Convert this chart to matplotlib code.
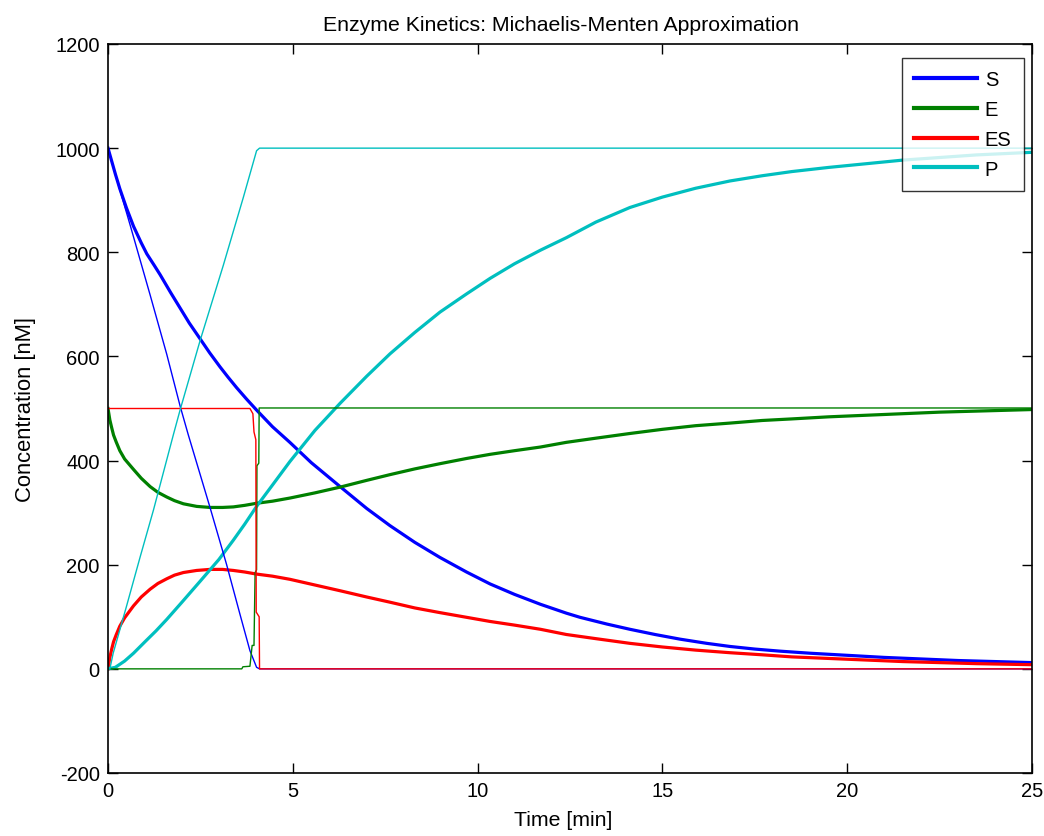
import matplotlib
matplotlib.use("Agg")
import matplotlib.pyplot as plt

# ---- thick curves (full model) ----
t_S = [0, 0.1, 0.2, 0.32, 0.5, 0.69, 0.9, 1.05, 1.25, 1.41, 1.7, 1.95, 2.2, 2.49,
       2.75, 3.03, 3.25, 3.48, 3.75, 4.02, 4.45, 4.92, 5.5, 6.28, 7.0, 7.63, 8.3,
       8.98, 9.7, 10.34, 11.0, 11.7, 12.4, 12.77, 13.5, 14.12, 14.8, 15.48, 16.2,
       16.83, 17.5, 18.18, 19.0, 20.0, 21.0, 22.0, 23.0, 24.0, 25.0]
S = [1000, 975, 950, 922, 885, 850, 818, 797, 775, 757, 722, 693, 664, 634,
     607, 580, 560, 540, 518, 497, 465, 435, 396, 350, 308, 275, 243,
     214, 186, 163, 143, 124, 107, 99, 86, 76, 66, 57, 49,
     43, 38, 34, 30, 26, 22, 19, 16, 14, 12]

t_E = [0, 0.05, 0.1, 0.15, 0.22, 0.32, 0.45, 0.69, 0.9, 1.14, 1.35, 1.59, 1.8, 2.04,
       2.4, 2.76, 3.1, 3.39, 3.7, 4.02, 4.45, 4.92, 5.6, 6.28, 7.0, 7.63, 8.3, 8.98,
       9.7, 10.34, 11.0, 11.7, 12.4, 13.2, 14.12, 15.0, 15.9, 16.83, 17.7, 18.5,
       19.5, 20.5, 21.5, 22.5, 23.5, 25.0]
E = [500, 478, 463, 449, 436, 419, 403, 383, 366, 350, 339, 330, 323, 317,
     312, 310, 310, 311, 314, 318, 322, 328, 338, 349, 362, 373, 384, 394,
     404, 412, 419, 426, 435, 443, 452, 460, 467, 472, 477, 480,
     484, 487, 490, 493, 495, 498]

t_ES = [0, 0.05, 0.1, 0.15, 0.22, 0.32, 0.45, 0.69, 0.9, 1.14, 1.35, 1.59, 1.8, 2.04,
        2.4, 2.76, 3.1, 3.39, 3.7, 4.02, 4.45, 4.92, 5.6, 6.28, 7.0, 7.63, 8.3, 8.98,
        9.7, 10.34, 11.0, 11.7, 12.4, 13.2, 14.12, 15.0, 15.9, 16.83, 17.7, 18.5,
        19.5, 20.5, 21.5, 22.5, 23.5, 25.0]
ES = [0, 22, 38, 52, 65, 82, 98, 121, 138, 153, 164, 173, 180, 185,
      189, 191, 191, 189, 186, 182, 178, 172, 161, 150, 138, 128, 117, 108,
      99, 91, 84, 76, 66, 58, 49, 42, 36, 31, 27, 23,
      20, 17, 14, 12, 10, 8]

t_P = [0, 0.2, 0.45, 0.69, 1.0, 1.3, 1.59, 2.0, 2.49, 3.0, 3.39, 3.7, 4.02, 4.45,
       4.92, 5.6, 6.28, 7.0, 7.63, 8.3, 8.98, 9.7, 10.34, 11.0, 11.7, 12.4, 13.2,
       14.12, 15.0, 15.9, 16.83, 17.7, 18.5, 19.5, 20.5, 21.5, 22.5, 23.5, 25.0]
P = [0, 3, 15, 30, 52, 73, 95, 128, 168, 210, 247, 278, 312, 353,
     398, 458, 510, 562, 605, 646, 685, 720, 750, 778, 804, 828, 858,
     886, 906, 923, 937, 947, 955, 963, 970, 977, 982, 987, 992]

# ---- thin curves (quasi-steady-state approximation) ----
t_S_qss = [0, 0.3, 0.6, 1.14, 1.59, 1.95, 2.17, 2.76, 3.21, 3.57, 3.84, 4.02, 4.1, 25.0]
S_qss = [1000, 925, 852, 718, 604, 505, 450, 310, 200, 105, 35, 3, 0, 0]

t_E_qss = [0, 3.62, 3.65, 3.84, 3.9, 3.95, 3.98, 4.02, 4.03, 4.08, 4.09, 25.0]
E_qss = [0, 0, 4, 5, 45, 45, 185, 190, 390, 395, 501, 501]

t_ES_qss = [0, 3.84, 3.92, 3.95, 4.0, 4.01, 4.09, 4.1, 25.0]
ES_qss = [500, 500, 490, 455, 440, 109, 100, 0, 0]

t_P_qss = [0, 0.05, 0.14, 0.5, 0.87, 1.23, 1.77, 1.95, 2.49, 3.12, 3.66, 4.02, 4.1, 25.0]
P_qss = [0, 0, 30, 120, 215, 305, 450, 497, 630, 775, 905, 995, 1000, 1000]

labels = ["S", "E", "ES", "P"]
colors = ["#0000ff", "#008000", "#ff0000", "#00bfbf"]

plt.rcParams["font.family"] = ["Liberation Sans", "DejaVu Sans"]
plt.rcParams["axes.unicode_minus"] = False

fig = plt.figure(figsize=(10.44, 8.37), dpi=100)
ax = fig.add_axes([108 / 1044, 1 - 774 / 837, (1032 - 108) / 1044, (774 - 45) / 837])

thick = [(t_S, S), (t_E, E), (t_ES, ES), (t_P, P)]
thin = [(t_S_qss, S_qss), (t_E_qss, E_qss), (t_ES_qss, ES_qss), (t_P_qss, P_qss)]
handles = []
for (tx, y), c, lab in zip(thick, colors, labels):
    h, = ax.plot(tx, y, color=c, lw=2.3, label=lab, solid_joinstyle="round")
    handles.append(h)
for (tx, y), c in zip(thin, colors):
    ax.plot(tx, y, color=c, lw=1.0)

ax.set_xlim(0, 25)
ax.set_ylim(-200, 1200)
ax.set_xticks([0, 5, 10, 15, 20, 25])
ax.set_yticks(range(-200, 1201, 200))
ax.tick_params(direction="in", length=7, width=1.0, top=True, right=True,
               labelsize=14.5, colors="black", pad=6)
for sp in ax.spines.values():
    sp.set_linewidth(1.2)

ax.set_title("Enzyme Kinetics: Michaelis-Menten Approximation", fontsize=15.3, pad=10,
             x=(561 - 108) / 924)
ax.set_xlabel("Time [min]", fontsize=15.3)
ax.xaxis.set_label_coords((563 - 108) / 924, (774 - 811) / 729)
ax.set_ylabel("Concentration [nM]", fontsize=15.8, labelpad=14)

leg = ax.legend(handles=handles, loc="upper right",
                bbox_to_anchor=((1024 - 108) / 924, (774 - 59) / 729),
                fontsize=14.5, frameon=True, fancybox=False, edgecolor="black",
                handlelength=3.1, handletextpad=0.4, labelspacing=0.53,
                borderpad=0.62, borderaxespad=0)
leg.get_frame().set_linewidth(1.0)
for lh in leg.get_lines():
    lh.set_linewidth(3)

fig.savefig("out.png", dpi=100)
